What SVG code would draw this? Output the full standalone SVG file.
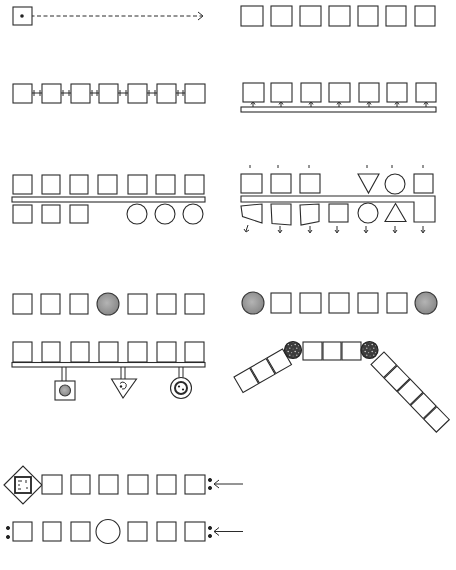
<svg xmlns="http://www.w3.org/2000/svg" width="456" height="570" viewBox="0 0 456 570">
<defs>
<style>
.n{fill:#fff;stroke:#2b2b2b;stroke-width:1.1}
.c{fill:none;stroke:#2b2b2b;stroke-width:1}
.g{fill:url(#gray);stroke:#3a3a3a;stroke-width:1.1}
.s{fill:url(#speck);stroke:#222;stroke-width:1.2}
.dot{fill:#222}
</style>
<radialGradient id="gray" cx="0.45" cy="0.45" r="0.6">
<stop offset="0" stop-color="#b4b4b4"/>
<stop offset="1" stop-color="#858585"/>
</radialGradient>
<pattern id="speck" width="7" height="7" patternUnits="userSpaceOnUse">
<rect width="7" height="7" fill="#3c3c3c"/>
<circle cx="1.2" cy="1.5" r="0.8" fill="#cfcfcf"/>
<circle cx="4.6" cy="2.6" r="0.6" fill="#aaa"/>
<circle cx="2.8" cy="5.2" r="0.7" fill="#bdbdbd"/>
<circle cx="6.1" cy="6" r="0.5" fill="#999"/>
</pattern>
</defs>
<rect width="456" height="570" fill="#fff"/>

<!-- connectors -->
<g id="connectors" class="c">
  <line x1="24" y1="16" x2="202" y2="16" stroke-dasharray="4 2.5"/>
  <path d="M198,12 L203,16 L198,20"/>
  <path d="M32,93 H42 M34,90 V96 M40,90 V96"/>
  <path d="M61,93 H71 M63,90 V96 M69,90 V96"/>
  <path d="M90,93 H99 M92,90 V96 M97,90 V96"/>
  <path d="M118,93 H128 M120,90 V96 M126,90 V96"/>
  <path d="M147,93 H157 M149,90 V96 M155,90 V96"/>
  <path d="M176,93 H185 M178,90 V96 M183,90 V96"/>
  <rect x="241" y="107" width="195" height="5" class="n"/>
  <path d="M253,107 V102 M251,104.5 L253,101.5 L255,104.5"/>
  <path d="M281,107 V102 M279,104.5 L281,101.5 L283,104.5"/>
  <path d="M311,107 V102 M309,104.5 L311,101.5 L313,104.5"/>
  <path d="M339,107 V102 M337,104.5 L339,101.5 L341,104.5"/>
  <path d="M369,107 V102 M367,104.5 L369,101.5 L371,104.5"/>
  <path d="M397,107 V102 M395,104.5 L397,101.5 L399,104.5"/>
  <path d="M426,107 V102 M424,104.5 L426,101.5 L428,104.5"/>
  <rect x="12" y="197" width="193" height="5" class="n"/>
  <path d="M250,165 V168 M278,165 V168 M309,165 V168 M367,165 V168 M392,165 V168 M423,165 V168"/>
  <path d="M241,196 H435 V222 H414 V202 H241 Z" class="n"/>
  <path d="M248,225 L246,231 M244,229 L246,232 L249,230"/>
  <path d="M280,226 V232 M278,230 L280,233 L282,230"/>
  <path d="M310,226 V232 M308,230 L310,233 L312,230"/>
  <path d="M337,226 V232 M335,230 L337,233 L339,230"/>
  <path d="M366,226 V232 M364,230 L366,233 L368,230"/>
  <path d="M395,226 V232 M393,230 L395,233 L397,230"/>
  <path d="M423,226 V232 M421,230 L423,233 L425,230"/>
  <rect x="12" y="362.5" width="193" height="4.5" class="n"/>
  <path d="M62,367 V381 M66,367 V381"/>
  <path d="M121,367 V380 M125,367 V380"/>
  <path d="M179,367 V377.5 M183,367 V377.5"/>
  <path d="M214,484 H243 M219,480 L214,484 L219,488"/>
  <path d="M214,531.5 H243 M219,527.5 L214,531.5 L219,535.5"/>
  <circle cx="210" cy="480" r="1.6" class="dot"/>
  <circle cx="210" cy="488" r="1.6" class="dot"/>
  <circle cx="210" cy="528" r="1.6" class="dot"/>
  <circle cx="210" cy="536" r="1.6" class="dot"/>
  <circle cx="8" cy="528" r="1.6" class="dot"/>
  <circle cx="8" cy="537" r="1.6" class="dot"/>
</g>

<g id="a1"><rect x="13" y="7" width="19" height="18" class="n"/><circle cx="22" cy="16" r="1.8" class="dot"/></g>

<g id="panelB">
<g id="b1"><rect x="241" y="6" width="22" height="20" class="n"/></g>
<g id="b2"><rect x="271" y="6" width="21" height="20" class="n"/></g>
<g id="b3"><rect x="300" y="6" width="21" height="20" class="n"/></g>
<g id="b4"><rect x="329" y="6" width="21" height="20" class="n"/></g>
<g id="b5"><rect x="358" y="6" width="20" height="20" class="n"/></g>
<g id="b6"><rect x="386" y="6" width="20" height="20" class="n"/></g>
<g id="b7"><rect x="415" y="6" width="20" height="20" class="n"/></g>
</g>

<g id="panelC">
<g id="c1"><rect x="13" y="84" width="19" height="19" class="n"/></g>
<g id="c2"><rect x="42" y="84" width="19" height="19" class="n"/></g>
<g id="c3"><rect x="71" y="84" width="19" height="19" class="n"/></g>
<g id="c4"><rect x="99" y="84" width="19" height="19" class="n"/></g>
<g id="c5"><rect x="128" y="84" width="19" height="19" class="n"/></g>
<g id="c6"><rect x="157" y="84" width="19" height="19" class="n"/></g>
<g id="c7"><rect x="185" y="84" width="20" height="19" class="n"/></g>
</g>

<g id="panelD">
<g id="d1"><rect x="243" y="83" width="21" height="19" class="n"/></g>
<g id="d2"><rect x="271" y="83" width="21" height="19" class="n"/></g>
<g id="d3"><rect x="301" y="83" width="20" height="19" class="n"/></g>
<g id="d4"><rect x="329" y="83" width="21" height="19" class="n"/></g>
<g id="d5"><rect x="359" y="83" width="20" height="19" class="n"/></g>
<g id="d6"><rect x="387" y="83" width="20" height="19" class="n"/></g>
<g id="d7"><rect x="416" y="83" width="20" height="19" class="n"/></g>
</g>

<g id="panelE">
<g id="e1"><rect x="13" y="175" width="19" height="19" class="n"/></g>
<g id="e2"><rect x="42" y="175" width="18" height="19" class="n"/></g>
<g id="e3"><rect x="70" y="175" width="18" height="19" class="n"/></g>
<g id="e4"><rect x="98" y="175" width="19" height="19" class="n"/></g>
<g id="e5"><rect x="128" y="175" width="19" height="19" class="n"/></g>
<g id="e6"><rect x="156" y="175" width="19" height="19" class="n"/></g>
<g id="e7"><rect x="185" y="175" width="19" height="19" class="n"/></g>
<g id="e8"><rect x="13" y="205" width="19" height="18" class="n"/></g>
<g id="e9"><rect x="42" y="205" width="18" height="18" class="n"/></g>
<g id="e10"><rect x="70" y="205" width="18" height="18" class="n"/></g>
<g id="e11"><circle cx="137" cy="214" r="10" class="n"/></g>
<g id="e12"><circle cx="165" cy="214" r="10" class="n"/></g>
<g id="e13"><circle cx="193" cy="214" r="10" class="n"/></g>
</g>

<g id="panelF">
<g id="f1"><rect x="241" y="174" width="21" height="19" class="n"/></g>
<g id="f2"><rect x="271" y="174" width="20" height="19" class="n"/></g>
<g id="f3"><rect x="300" y="174" width="20" height="19" class="n"/></g>
<g id="f4"><path d="M358,174 H379 L368.5,193 Z" class="n"/></g>
<g id="f5"><circle cx="395" cy="184" r="10" class="n"/></g>
<g id="f6"><rect x="414" y="174" width="19" height="19" class="n"/></g>
<g id="f7"><path d="M241,206 L262,204 L262,223 L242.5,216.5 Z" class="n"/></g>
<g id="f8"><path d="M271,204 L291,204 L291,225 L272,223.5 Z" class="n"/></g>
<g id="f9"><path d="M300,205 L319,204 L319,221.5 L301,225 Z" class="n"/></g>
<g id="f10"><rect x="329" y="204" width="19" height="18" class="n"/></g>
<g id="f11"><circle cx="368" cy="213" r="10" class="n"/></g>
<g id="f12"><path d="M395.5,203.5 L406,221.5 H385 Z" class="n"/></g>
</g>

<g id="panelG">
<g id="g1"><rect x="13" y="294" width="19" height="20" class="n"/></g>
<g id="g2"><rect x="41" y="294" width="19" height="20" class="n"/></g>
<g id="g3"><rect x="70" y="294" width="18" height="20" class="n"/></g>
<g id="g4"><circle cx="108" cy="304" r="11" class="g"/></g>
<g id="g5"><rect x="128" y="294" width="19" height="20" class="n"/></g>
<g id="g6"><rect x="157" y="294" width="19" height="20" class="n"/></g>
<g id="g7"><rect x="185" y="294" width="19" height="20" class="n"/></g>
</g>

<g id="panelH">
<g id="h1"><rect x="13" y="342" width="19" height="20" class="n"/></g>
<g id="h2"><rect x="42" y="342" width="18" height="20" class="n"/></g>
<g id="h3"><rect x="71" y="342" width="18" height="20" class="n"/></g>
<g id="h4"><rect x="99" y="342" width="19" height="20" class="n"/></g>
<g id="h5"><rect x="128" y="342" width="19" height="20" class="n"/></g>
<g id="h6"><rect x="157" y="342" width="19" height="20" class="n"/></g>
<g id="h7"><rect x="185" y="342" width="19" height="20" class="n"/></g>
<g id="h8"><rect x="55" y="381" width="20" height="19" class="n"/><circle cx="65" cy="390.5" r="5.5" class="g"/></g>
<g id="h9"><path d="M111.5,379 H136.5 L123,398 Z" class="n"/><path d="M120,383.5 a3.5,3.5 0 1,1 2,5.5" class="c" stroke-width="1.4"/><circle cx="121" cy="386.5" r="1.2" class="dot"/></g>
<g id="h10"><circle cx="181" cy="388" r="10.5" class="n"/><circle cx="181" cy="388" r="6" fill="none" stroke="#2b2b2b" stroke-width="2"/><circle cx="179" cy="386.5" r="1.1" class="dot"/><circle cx="183" cy="389.5" r="1.1" class="dot"/></g>
</g>

<g id="panelI">
<g id="i1"><circle cx="253" cy="303" r="11" class="g"/></g>
<g id="i2"><rect x="271" y="293" width="20" height="20" class="n"/></g>
<g id="i3"><rect x="300" y="293" width="21" height="20" class="n"/></g>
<g id="i4"><rect x="329" y="293" width="20" height="20" class="n"/></g>
<g id="i5"><rect x="358" y="293" width="20" height="20" class="n"/></g>
<g id="i6"><rect x="387" y="293" width="20" height="20" class="n"/></g>
<g id="i7"><circle cx="426" cy="303" r="11" class="g"/></g>
</g>

<g id="panelJ">
<g id="j-left" transform="translate(234,377) rotate(-30)">
<g id="j1"><rect x="0" y="0" width="18" height="18" class="n"/></g>
<g id="j2"><rect x="19" y="0" width="18" height="18" class="n"/></g>
<g id="j3"><rect x="38" y="0" width="18" height="18" class="n"/></g>
</g>
<g id="j4"><circle cx="293" cy="350" r="8.5" class="s"/></g>
<g id="j5"><rect x="303" y="342" width="19" height="18" class="n"/></g>
<g id="j6"><rect x="323" y="342" width="18" height="18" class="n"/></g>
<g id="j7"><rect x="342" y="342" width="19" height="18" class="n"/></g>
<g id="j8"><circle cx="369.5" cy="350" r="8.5" class="s"/></g>
<g id="j-right" transform="translate(384,352) rotate(46)">
<g id="j9"><rect x="0" y="0" width="18" height="18" class="n"/></g>
<g id="j10"><rect x="19" y="0" width="18" height="18" class="n"/></g>
<g id="j11"><rect x="38" y="0" width="18" height="18" class="n"/></g>
<g id="j12"><rect x="57" y="0" width="18" height="18" class="n"/></g>
<g id="j13"><rect x="76" y="0" width="18" height="18" class="n"/></g>
</g>
</g>

<g id="panelK">
<g id="k1"><path d="M4,485 L23,466 L42,485 L23,504 Z" class="n"/><rect x="15" y="477" width="16" height="16" fill="#fff" stroke="#222" stroke-width="1.8"/><path d="M18,481 h4 M26,480 v3 M18,489 h3 M26,488 h2 M19,484 v2" class="c" stroke-width="0.8"/></g>
<g id="k2"><rect x="42" y="475" width="20" height="19" class="n"/></g>
<g id="k3"><rect x="71" y="475" width="19" height="19" class="n"/></g>
<g id="k4"><rect x="99" y="475" width="19" height="19" class="n"/></g>
<g id="k5"><rect x="128" y="475" width="20" height="19" class="n"/></g>
<g id="k6"><rect x="157" y="475" width="19" height="19" class="n"/></g>
<g id="k7"><rect x="185" y="475" width="20" height="19" class="n"/></g>
</g>

<g id="panelL">
<g id="l1"><rect x="13" y="522" width="19" height="19" class="n"/></g>
<g id="l2"><rect x="43" y="522" width="18" height="19" class="n"/></g>
<g id="l3"><rect x="71" y="522" width="19" height="19" class="n"/></g>
<g id="l4"><circle cx="108" cy="531.5" r="12" class="n"/></g>
<g id="l5"><rect x="128" y="522" width="19" height="19" class="n"/></g>
<g id="l6"><rect x="157" y="522" width="19" height="19" class="n"/></g>
<g id="l7"><rect x="185" y="522" width="20" height="19" class="n"/></g>
</g>
</svg>
